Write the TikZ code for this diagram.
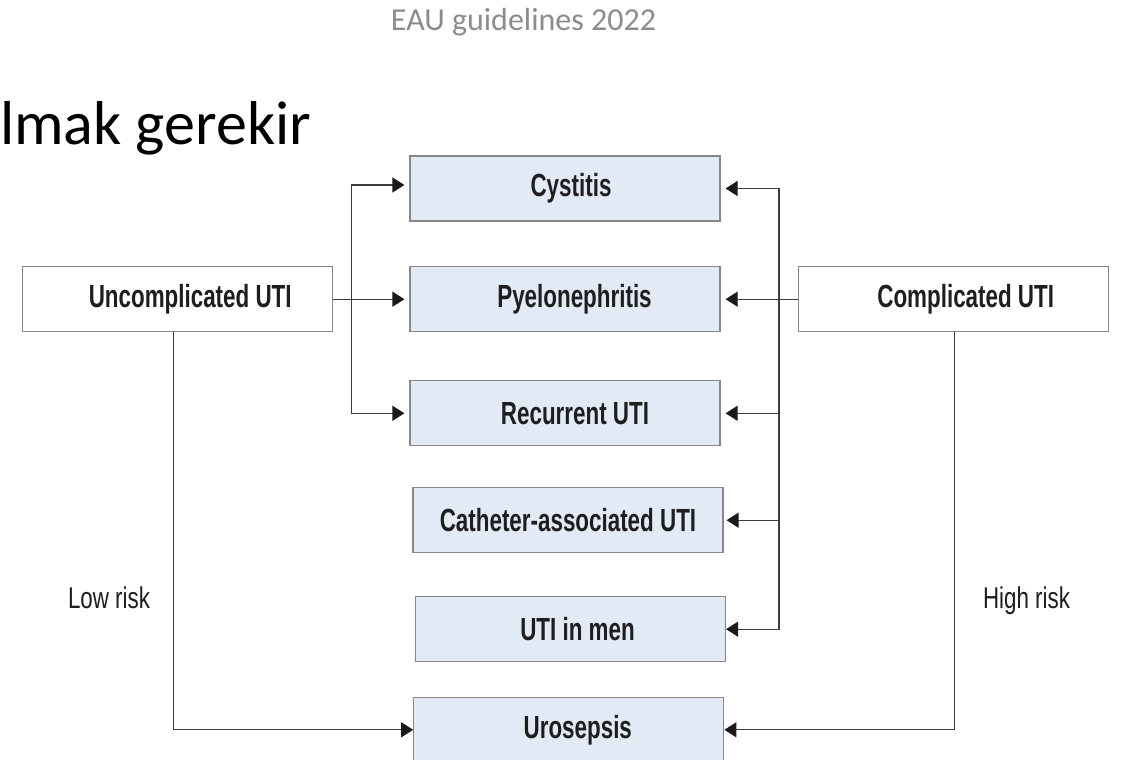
\documentclass[tikz,border=0pt]{standalone}
\usepackage{fontspec}
\setmainfont{Liberation Sans}
\newfontfamily\boxfont[FakeStretch=0.70]{Liberation Sans}
\newfontfamily\riskfont[FakeStretch=0.745]{Liberation Sans}
\newfontfamily\slidefont{Carlito}
\usetikzlibrary{arrows.meta}

\definecolor{boxfill}{HTML}{E2EAF6}
\definecolor{boxline}{HTML}{888888}
\definecolor{linkgray}{HTML}{3C3C3C}
\definecolor{tipblack}{HTML}{1A1A1A}
\definecolor{textdark}{HTML}{1E1E1E}
\definecolor{titlegray}{HTML}{8C8C8C}

% text nudged right inside its box by half of the given space
\newcommand{\nudge}[2]{\hspace*{#1pt}#2}

\tikzset{
  catbox/.style={draw=boxline, fill=boxfill, line width=1.2pt,
    minimum width=310pt, minimum height=65pt, inner sep=0pt,
    text=textdark, font=\boxfont\bfseries\fontsize{32}{36}\selectfont},
  typebox/.style={catbox, fill=white},
  risk/.style={anchor=base, inner sep=0pt, text=textdark,
    font=\riskfont\fontsize{30}{34}\selectfont},
  link/.style={draw=linkgray, line width=1.2pt,
    -{Triangle[length=12pt,width=15pt,color=tipblack]}},
}

\begin{document}
\begin{tikzpicture}[x=1pt, y=-1pt]
  \useasboundingbox (0,0) rectangle (1128,760);
  \fill[white] (0,0) rectangle (1128,760);

  % slide header
  \node[anchor=base, inner sep=0pt, text=titlegray,
        font=\slidefont\fontsize{32}{36}\selectfont] (title) at (523.5,31) {EAU guidelines 2022};
  \node[anchor=base west, inner sep=0pt, text=black,
        font=\slidefont\fontsize{62}{68}\selectfont] (head) at (0,144) {lmak gerekir};

  % UTI categories
  \node[catbox] (cyst) at (565,188.5)   {\nudge{12}{Cystitis}};
  \node[catbox] (pyel) at (565,299.2)   {\nudge{19}{Pyelonephritis}};
  \node[catbox] (recu) at (565,413.3)   {\nudge{20}{Recurrent UTI}};
  \node[catbox] (cath) at (568,520.2)   {Catheter-associated UTI};
  \node[catbox] (men)  at (570.5,629.2) {\nudge{14}{UTI in men}};
  \node[catbox] (uros) at (568.8,729.8) {\nudge{18}{Urosepsis}};

  % uncomplicated / complicated
  \node[typebox] (unc)  at (177.2,299.2) {\nudge{26}{Uncomplicated UTI}};
  \node[typebox] (comp) at (953.2,299.2) {\nudge{25}{Complicated UTI}};

  % risk labels
  \node[risk] (low)  at (109,608)    {Low risk};
  \node[risk] (high) at (1026.5,608) {High risk};

  % junctions on the two vertical buses
  \coordinate (lbus) at (351.5,299.2);
  \coordinate (rbus) at (779,299.2);

  % uncomplicated branch
  \draw[link, shorten >=5pt] (unc) -- (pyel);
  \draw[link, shorten >=5pt] (lbus) |- ([yshift=3.5pt]cyst.west);
  \draw[link, shorten >=5pt] (lbus) |- (recu.west);
  \draw[link] ([xshift=-4pt]unc.south) |- (uros.west);

  % complicated branch
  \draw[link, shorten >=5pt] (comp) -- (pyel);
  \draw[link, shorten >=5pt] (rbus) |- (cyst.east);
  \draw[link, shorten >=5pt] (rbus) |- (recu.east);
  \draw[link, shorten >=3pt] (rbus) |- (cath.east);
  \draw[link] (rbus) |- (men.east);
  \draw[link] ([xshift=1pt]comp.south) |- (uros.east);
\end{tikzpicture}
\end{document}
